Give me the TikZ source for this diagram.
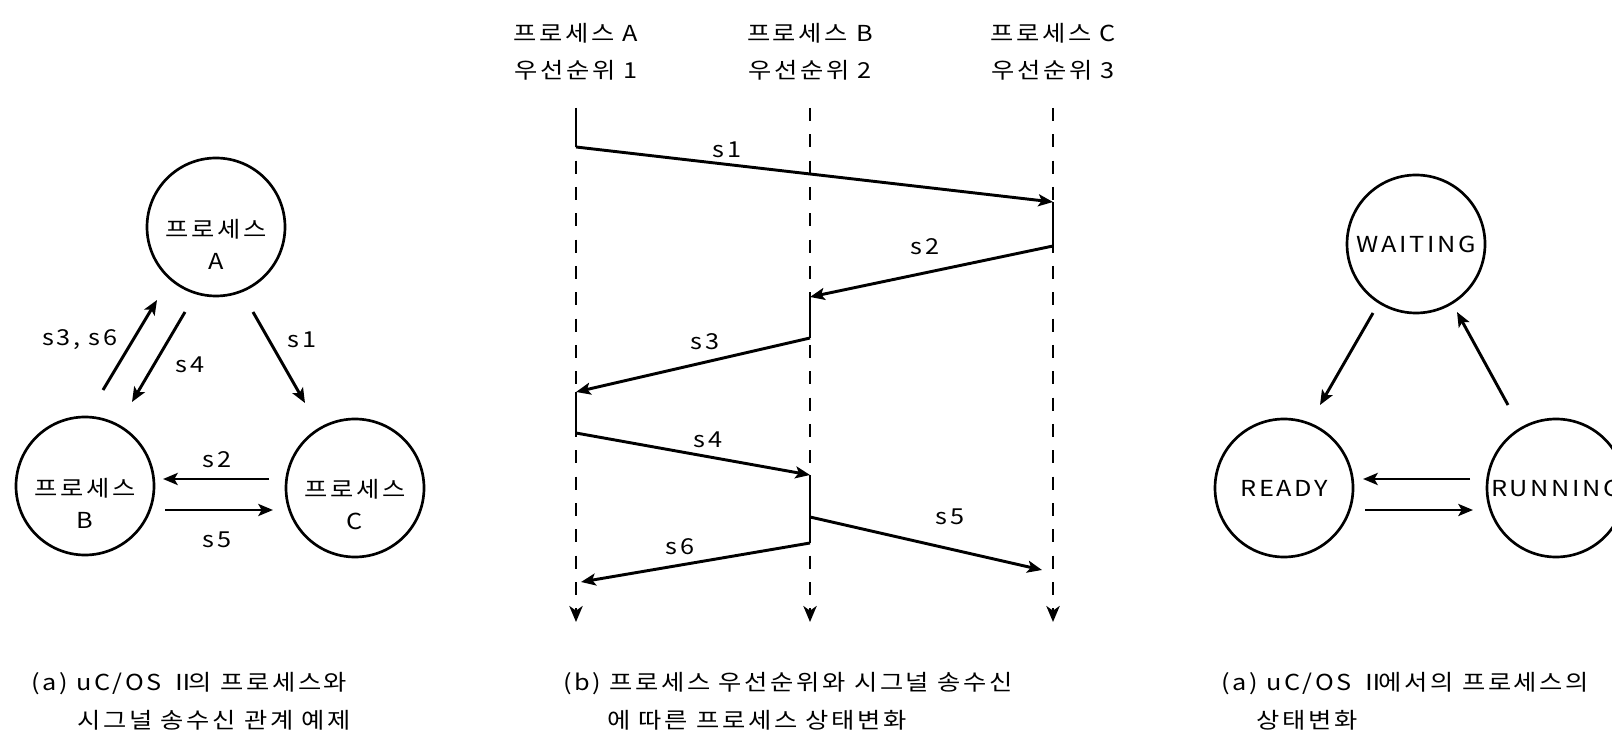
\documentclass[tikz,border=0pt]{standalone}
\usepackage{fontspec}
\setmainfont{Noto Sans CJK KR}[FakeStretch=1.15,LetterSpace=12]
\usetikzlibrary{arrows.meta}
\newcommand{\romtwo}{Ⅱ\kern-5pt}
\begin{document}
\begin{tikzpicture}[x=0.75pt,y=-0.75pt,
  proc/.style={circle, draw, line width=2pt, minimum size=103.5pt, inner sep=0pt},
  ptext/.style={align=center, font=\fontsize{16.5}{24}\selectfont, inner sep=0pt},
  htext/.style={align=center, font=\fontsize{16.5}{27.75}\selectfont, inner sep=0pt},
  lbl/.style={font=\fontsize{16.5}{20}\selectfont, inner sep=0pt},
  captext/.style={anchor=west, font=\fontsize{16.5}{20}\selectfont, inner sep=0pt},
  sig/.style={line width=2.2pt, -{Stealth[length=11pt,width=9pt,inset=2.5pt]}},
  lane/.style={line width=1.8pt, dash pattern=on 9.75pt off 10pt, -{Stealth[length=12pt,width=10pt,inset=3.5pt]}},
  act/.style={line width=2.2pt}]
\useasboundingbox (0,0) rectangle (1612,737);
\clip (0,0) rectangle (1612,737);

% ---------- (a) left graph ----------
\node[proc] (A) at (216,227) {};
\node[proc] (B) at (85,486) {};
\node[proc] (C) at (355,488) {};
\node[ptext] (At) at (216,244) {프로세스\\A};
\node[ptext] (Bt) at (85,503) {프로세스\\B};
\node[ptext] (Ct) at (355,505) {프로세스\\C};

\coordinate (l36s) at (103,390); \coordinate (l36e) at (157,300);
\coordinate (l4s) at (185,312);  \coordinate (l4e) at (132,402);
\coordinate (l1s) at (253,312);  \coordinate (l1e) at (305,403);
\coordinate (l2s) at (269,479);  \coordinate (l2e) at (163,479);
\coordinate (l5s) at (165,510);  \coordinate (l5e) at (273,510);
\draw[sig] (l36s) -- (l36e);
\draw[sig] (l4s) -- (l4e);
\draw[sig] (l1s) -- (l1e);
\draw[sig] (l2s) -- (l2e);
\draw[sig] (l5s) -- (l5e);
\node[lbl] (ll36) at (80,340) {s3, s6};
\node[lbl] (ll4) at (190,365) {s4};
\node[lbl] (ll1) at (302,340) {s1};
\node[lbl] (ll2) at (217,460) {s2};
\node[lbl] (ll5) at (217,540) {s5};

\node[captext] (cap1a) at (31,684) {(a) uC/OS \romtwo 의 프로세스와};
\node[captext] (cap1b) at (77,720) {시그널 송수신 관계 예제};

% ---------- (b) sequence ----------
\node[htext] (hA) at (576,52) {프로세스 A\\우선순위 1};
\node[htext] (hB) at (810,52) {프로세스 B\\우선순위 2};
\node[htext] (hC) at (1053,52) {프로세스 C\\우선순위 3};

\coordinate (At0) at (576,108); \coordinate (Ab0) at (576,622);
\coordinate (Bt0) at (810,108); \coordinate (Bb0) at (810,622);
\coordinate (Ct0) at (1053,108); \coordinate (Cb0) at (1053,622);
\draw[lane] (At0) -- (Ab0);
\draw[lane] (Bt0) -- (Bb0);
\draw[lane] (Ct0) -- (Cb0);

\coordinate (a1) at (576,147);
\coordinate (c1) at (1053,202);
\coordinate (c2) at (1053,246);
\coordinate (b2) at (810,297);
\coordinate (b3) at (810,338);
\coordinate (a3) at (576,392);
\coordinate (a4) at (576,433);
\coordinate (b4) at (810,475);
\coordinate (b5) at (810,517);
\coordinate (c5) at (1042,570);
\coordinate (b6) at (810,543);
\coordinate (a6) at (581,582);

\draw[act] (At0) -- (a1);
\draw[act] (c1) -- (c2);
\draw[act] (b2) -- (b3);
\draw[act] (a3) -- (a4);
\draw[act] (b4) -- (b6);

\draw[sig] (a1) -- (c1);
\draw[sig] (c2) -- (b2);
\draw[sig] (b3) -- (a3);
\draw[sig] (a4) -- (b4);
\draw[sig] (b5) -- (c5);
\draw[sig] (b6) -- (a6);

\node[lbl] (m1) at (727,150) {s1};
\node[lbl] (m2) at (925,247) {s2};
\node[lbl] (m3) at (705,342) {s3};
\node[lbl] (m4) at (708,440) {s4};
\node[lbl] (m5) at (950,517) {s5};
\node[lbl] (m6) at (680,547) {s6};

\node[captext] (cap2a) at (563,684) {(b) 프로세스 우선순위와 시그널 송수신};
\node[captext] (cap2b) at (607,720) {에 따른 프로세스 상태변화};

% ---------- (c) state graph ----------
\node[proc, lbl] (W) at (1416,244) {WAITING};
\node[proc, lbl] (R) at (1284,488) {READY};
\node[proc, lbl] (U) at (1556,488) {RUNNING};

\coordinate (r1s) at (1373,313); \coordinate (r1e) at (1320,405);
\coordinate (r2s) at (1508,405); \coordinate (r2e) at (1457,312);
\coordinate (r3s) at (1470,479); \coordinate (r3e) at (1363,479);
\coordinate (r4s) at (1365,510); \coordinate (r4e) at (1473,510);
\draw[sig] (r1s) -- (r1e);
\draw[sig] (r2s) -- (r2e);
\draw[sig] (r3s) -- (r3e);
\draw[sig] (r4s) -- (r4e);

\node[captext] (cap3a) at (1221,684) {(a) uC/OS \romtwo 에서의 프로세스의};
\node[captext] (cap3b) at (1256,720) {상태변화};
\end{tikzpicture}
\end{document}
